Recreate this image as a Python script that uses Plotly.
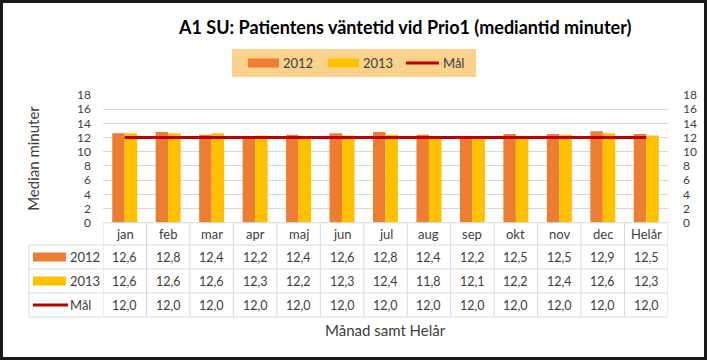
import plotly.graph_objects as go

W, H = 708, 361

categories = ["jan", "feb", "mar", "apr", "maj", "jun", "jul", "aug", "sep", "okt", "nov", "dec", "Helår"]
values_2012 = [12.6, 12.8, 12.4, 12.2, 12.4, 12.6, 12.8, 12.4, 12.2, 12.5, 12.5, 12.9, 12.5]
values_2013 = [12.6, 12.6, 12.6, 12.3, 12.2, 12.3, 12.4, 11.8, 12.1, 12.2, 12.4, 12.6, 12.3]
values_mal = [12.0] * 13
series_names = ["2012", "2013", "Mål"]
y_ticks = [0, 2, 4, 6, 8, 10, 12, 14, 16, 18]

C_2012 = "#ED7D31"
C_2013 = "#FFC000"
C_MAL = "#C00000"
GRID = "#D9D9D9"
TXT = "#404040"
FONT = "Lato, 'Open Sans', sans-serif"

# pixel helpers
def px(x):
    return x / W

def py(y):
    return 1 - y / H

PLOT_L, PLOT_R = 103, 668
PLOT_T, PLOT_B = 95, 222.7

fig = go.Figure()
fig.add_trace(go.Bar(x=categories, y=values_2012, name=series_names[0], marker_color=C_2012,
                     marker_line_width=0, showlegend=False))
fig.add_trace(go.Bar(x=categories, y=values_2013, name=series_names[1], marker_color=C_2013,
                     marker_line_width=0, showlegend=False))
fig.add_trace(go.Scatter(x=categories, y=values_mal, name=series_names[2], mode="lines",
                         line=dict(color=C_MAL, width=3), yaxis="y2", showlegend=False))

shapes = []
annotations = []

def text(x, y, s, size, xref="paper", xanchor="center", color=TXT, **kw):
    annotations.append(dict(x=x, y=y, xref=xref, yref="paper", text=s, showarrow=False,
                            xanchor=xanchor, yanchor="middle",
                            font=dict(size=size, color=color, family=FONT), **kw))

# outer border
shapes.append(dict(type="rect", xref="paper", yref="paper", x0=px(1.5), x1=px(W - 2.5),
                   y0=py(H - 2.5), y1=py(1.5), line=dict(color="#1a1a1a", width=3)))

# data table
row_lines = [PLOT_B, 245, 269, 293, 317]
for i, yl in enumerate(row_lines):
    x0 = px(PLOT_L) if i == 0 else px(29)
    shapes.append(dict(type="line", xref="paper", yref="paper", x0=x0, x1=px(PLOT_R),
                       y0=py(yl), y1=py(yl), line=dict(color=GRID, width=1)))
shapes.append(dict(type="line", xref="paper", yref="paper", x0=px(29), x1=px(29),
                   y0=py(245), y1=py(317), line=dict(color=GRID, width=1)))
for k in range(len(categories) + 1):
    shapes.append(dict(type="line", xref="x", yref="paper", x0=k - 0.5, x1=k - 0.5,
                       y0=py(PLOT_B), y1=py(317), line=dict(color=GRID, width=1)))

row_centers = [(PLOT_B + 245) / 2, 257, 281, 305]
for c in categories:
    text(c, py(row_centers[0]), c, 13, xref="x")
for vals, yc in zip([values_2012, values_2013, values_mal], row_centers[1:]):
    for c, v in zip(categories, vals):
        text(c, py(yc), f"{v:.1f}".replace(".", ","), 12.5, xref="x")

# row header keys
for name, yc, col, kind in zip(series_names, row_centers[1:], [C_2012, C_2013, C_MAL], ["bar", "bar", "line"]):
    if kind == "bar":
        shapes.append(dict(type="rect", xref="paper", yref="paper", x0=px(33), x1=px(66),
                           y0=py(yc + 4.5), y1=py(yc - 4.5), fillcolor=col, line=dict(width=0)))
    else:
        shapes.append(dict(type="line", xref="paper", yref="paper", x0=px(33), x1=px(68),
                           y0=py(yc), y1=py(yc), line=dict(color=col, width=3)))
    text(px(68), py(yc), name, 13, xanchor="left")

# legend box
shapes.append(dict(type="rect", xref="paper", yref="paper", x0=px(232), x1=px(476),
                   y0=py(77), y1=py(49), fillcolor="#FAD28C", line=dict(width=0), layer="below"))
leg_y = 63
leg_items = [(248, 279, C_2012, "bar"), (328, 359, C_2013, "bar"), (406, 439, C_MAL, "line")]
for name, (x0, x1, col, kind) in zip(series_names, leg_items):
    if kind == "bar":
        shapes.append(dict(type="rect", xref="paper", yref="paper", x0=px(x0), x1=px(x1),
                           y0=py(leg_y + 4.5), y1=py(leg_y - 4.5), fillcolor=col, line=dict(width=0)))
    else:
        shapes.append(dict(type="line", xref="paper", yref="paper", x0=px(x0), x1=px(x1),
                           y0=py(leg_y), y1=py(leg_y), line=dict(color=col, width=3)))
    text(px(x1 + 2), py(leg_y), name, 13, xanchor="left")

# titles
text(px(405.5), py(27), "<b>A1 SU: Patientens väntetid vid Prio1 (mediantid minuter)</b>", 18,
     color="#000000")
text(px(33), py((PLOT_T + PLOT_B) / 2), "Median minuter", 15, textangle=-90)
text(px((PLOT_L + PLOT_R) / 2), py(330), "Månad samt Helår", 15)

fig.update_layout(
    template="none",
    width=W, height=H,
    margin=dict(l=0, r=0, t=0, b=0, pad=0),
    paper_bgcolor="white", plot_bgcolor="white",
    barmode="group", bargap=0.425, bargroupgap=0,
    showlegend=False,
    font=dict(family=FONT, color=TXT),
    xaxis=dict(domain=[px(PLOT_L), px(PLOT_R)], type="category", range=[-0.5, 12.5],
               automargin=False,
               showticklabels=False, showgrid=False, zeroline=False, showline=False, ticks=""),
    yaxis=dict(domain=[py(PLOT_B), py(PLOT_T)], range=[0, 18], tickvals=y_ticks,
               automargin=False,
               showgrid=True, gridcolor=GRID, gridwidth=1, zeroline=False, showline=False,
               ticks="", ticklabelstandoff=11, tickfont=dict(size=12, color=TXT, family=FONT)),
    yaxis2=dict(overlaying="y", side="right", anchor="x", range=[0, 18], tickvals=y_ticks,
                automargin=False,
                showgrid=False, zeroline=False, showline=False, ticks="",
                ticklabelstandoff=14, tickfont=dict(size=12, color=TXT, family=FONT)),
    shapes=shapes,
    annotations=annotations,
)

fig.write_html("out.html", config={"displayModeBar": False},
               post_script="document.body.style.margin='0';document.body.style.padding='0';"
                           "document.documentElement.style.overflow='hidden';")
